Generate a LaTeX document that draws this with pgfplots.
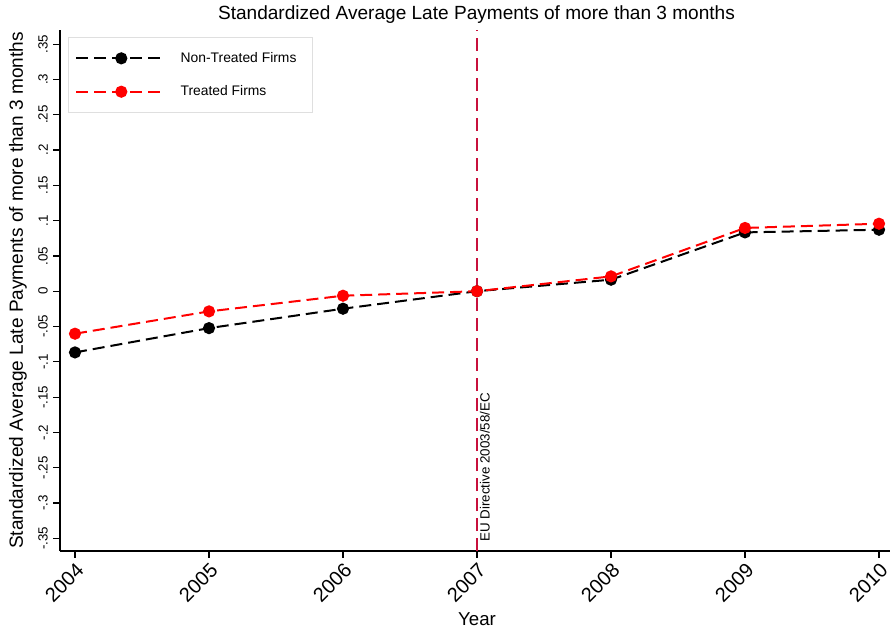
\documentclass[border=0pt]{standalone}
\usepackage{fontspec}
\setmainfont{Liberation Sans}
\usepackage{pgfplots}
\pgfplotsset{compat=1.18}
\definecolor{vline}{RGB}{200,16,60}
\begin{document}
\begin{tikzpicture}
\begin{axis}[
  scale only axis, width=622.5pt, height=390.75pt,
  xmin=2003.888, xmax=2010.082, ymin=-0.368, ymax=0.37,
  axis x line*=bottom, axis y line*=left,
  axis line style={line width=0.9pt, -},
  tick style={line width=0.9pt, black},
  tick align=outside, major tick length=5pt,
  xtick={2004,2005,2006,2007,2008,2009,2010},
  xticklabels={2004,2005,2006,2007,2008,2009,2010},
  xticklabel style={rotate=45, anchor=north east, font=\fontsize{15}{17}\selectfont, inner sep=2pt},
  ytick={-0.35,-0.3,-0.25,-0.2,-0.15,-0.1,-0.05,0,0.05,0.1,0.15,0.2,0.25,0.3,0.35},
  yticklabels={-.35,-.3,-.25,-.2,-.15,-.1,-.05,0,.05,.1,.15,.2,.25,.3,.35},
  yticklabel style={rotate=90, anchor=south, font=\fontsize{10}{12}\selectfont, inner sep=4pt},
  title={Standardized Average Late Payments of more than 3 months},
  title style={at={(axis description cs:0.5018,1.0134)}, anchor=center, font=\fontsize{14.3}{17}\selectfont, inner sep=0pt},
  ylabel={Standardized Average Late Payments of more than 3 months},
  ylabel style={at={(axis description cs:-0.0506,0.5)}, anchor=center, font=\fontsize{14.3}{17}\selectfont, inner sep=0pt},
  xlabel={Year},
  xlabel style={at={(axis description cs:0.5024,-0.1305)}, anchor=center, font=\fontsize{14}{17}\selectfont, inner sep=0pt},
  legend style={at={(axis description cs:0.0096,0.9866)}, anchor=north west,
    draw=gray!25, line width=1pt, inner xsep=5pt, inner ysep=9pt,
    font=\fontsize{10.4}{12}\selectfont, row sep=12pt,
    nodes={inner sep=2pt}},
  legend cell align=left,
  legend image code/.code={\draw[mark repeat=2, mark phase=2, #1] plot coordinates {(0pt,0pt) (33.75pt,0pt) (67.5pt,0pt)};},
]
\addplot[black, line width=1.5pt, dash pattern=on 9pt off 4.5pt, mark=*, mark size=3.8pt, mark options={solid}]
  coordinates {(2004,-0.0867) (2005,-0.0523) (2006,-0.0248) (2007,0) (2008,0.0163) (2009,0.0833) (2010,0.0871)};
\addlegendentry{\makebox[100pt][l]{\hspace{8pt}Non-Treated Firms}}
\addplot[red, line width=1.5pt, dash pattern=on 9pt off 4.5pt, mark=*, mark size=3.8pt, mark options={solid}]
  coordinates {(2004,-0.0602) (2005,-0.0286) (2006,-0.0064) (2007,0) (2008,0.0210) (2009,0.0896) (2010,0.0956)};
\addlegendentry{\makebox[100pt][l]{\hspace{8pt}Treated Firms}}
\addplot[vline, line width=1.5pt, dash pattern=on 10pt off 5pt, forget plot]
  coordinates {(2007,-0.368) (2007,0.37)};
\node[rotate=90, anchor=north west, inner sep=2pt, xshift=5pt, font=\fontsize{10}{12}\selectfont] at (axis cs:2007,-0.368) {EU Directive 2003/58/EC};
\end{axis}
\pgfresetboundingbox
\path (current axis.south west) ++(-45pt,-60pt) coordinate (bl);
\path (current axis.north east) ++(0pt,22.5pt) coordinate (tr);
\path[use as bounding box] (bl) rectangle (tr);
\end{tikzpicture}
\end{document}
